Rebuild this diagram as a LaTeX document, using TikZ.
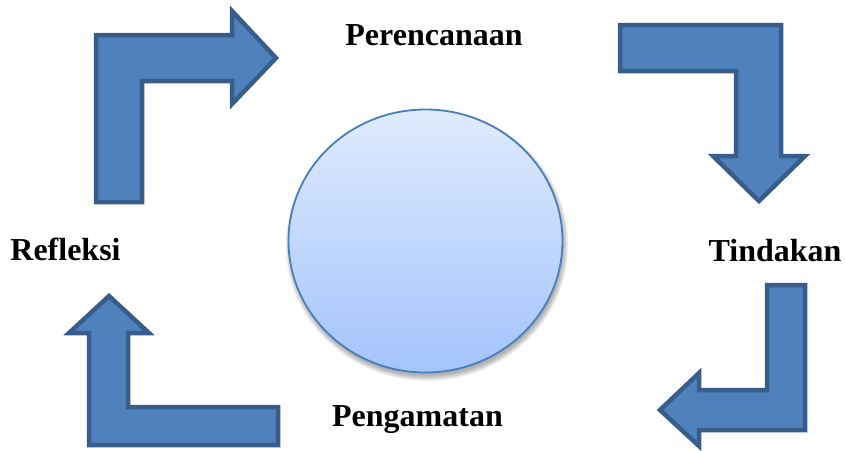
\documentclass[tikz,border=0pt]{standalone}
\usepackage{fontspec}
\setmainfont{Liberation Serif}
\definecolor{arrfill}{HTML}{4F81BD}
\definecolor{arrline}{HTML}{385D8A}
\definecolor{circline}{HTML}{4A7EBB}
\definecolor{circtop}{HTML}{E0EBFD}
\definecolor{circbot}{HTML}{A3C4FC}
\tikzset{
  bentarrow/.style={fill=arrfill, draw=arrline, line width=4.5pt, line join=miter},
  lbl/.style={anchor=base, inner sep=0pt, font=\fontsize{32}{38}\selectfont\bfseries},
}
\begin{document}
\begin{tikzpicture}[x=1pt,y=-1pt]
\useasboundingbox (0,0) rectangle (845,450);
% shadow of the circle
\foreach \i in {0,...,6}
  \fill[black, opacity=0.05] (427,245) ellipse ({136+\i*0.9} and {130.5+\i*0.9});
% circle
\path[shade, top color=circtop, bottom color=circbot, draw=circline, line width=1.8pt]
  (425.5,241) ellipse (137 and 131.5);
\node[circle, minimum size=0pt, inner sep=0pt] (centre) at (425.5,241) {};
% bent arrows
\draw[bentarrow] (96,202) -- (96,35) -- (232,35) -- (232,11) -- (276,58) -- (232,104) -- (232,81) -- (142,81) -- (142,202) -- cycle;
\draw[bentarrow] (620,25) -- (781,25) -- (781,156) -- (805,156) -- (759,201) -- (713,156) -- (736,156) -- (736,71) -- (620,71) -- cycle;
\draw[bentarrow] (805,285) -- (805,430) -- (699,430) -- (699,446) -- (660,410) -- (699,373) -- (699,390) -- (767,390) -- (767,285) -- cycle;
\draw[bentarrow] (278,445) -- (89,445) -- (89,333) -- (69,333) -- (109,296) -- (149,333) -- (128,333) -- (128,407) -- (278,407) -- cycle;
% labels
\node[lbl] (plan) at (434,45) {Perencanaan};
\node[lbl] (act) at (775,261) {Tindakan};
\node[lbl] (obs) at (417.5,426) {Pengamatan};
\node[lbl] (refl) at (65.5,260) {Refleksi};
\end{tikzpicture}
\end{document}
